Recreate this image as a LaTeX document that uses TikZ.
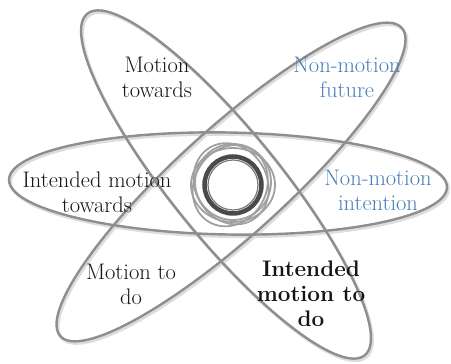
\documentclass[tikz,border=0pt]{standalone}
\usepackage{fontspec}
\usepackage{xcolor}
\definecolor{Orbit}{HTML}{8E8E8E}
\definecolor{Haze}{HTML}{DDDDDD}
\definecolor{Ring}{HTML}{A0A0A0}
\definecolor{Core}{HTML}{4A4A4A}
\definecolor{Ink}{HTML}{151515}
\definecolor{Accent}{HTML}{4A7EBB}

\begin{document}
\begin{tikzpicture}[x=1pt,y=1pt,orbit/.style={draw=Orbit,line width=2.4pt},shade/.style={draw=Haze,line width=3pt},halo/.style={draw=Ring,line width=1.8pt},word/.style={align=center,inner sep=0pt,text=Ink,font=\fontsize{22.5}{25}\selectfont},blueword/.style={word,text=Accent}]
\useasboundingbox (0,0) rectangle (451,364);
\coordinate (nuc) at (233,179);
% soft shadows under the orbits
\draw[shade,rotate around={-1:(229.5,178.5)}] (229.5,178.5) ellipse (219pt and 51pt);
\draw[shade,rotate around={-50.9:(227.5,177.5)}] (227.5,177.5) ellipse (220pt and 54pt);
\draw[shade,rotate around={42.1:(232.5,180)}] (232.5,180) ellipse (230pt and 54pt);
% orbits
\draw[orbit,rotate around={-1:(228,180.5)}] (228,180.5) ellipse (219pt and 51pt);
\draw[orbit,rotate around={-50.9:(226,179.5)}] (226,179.5) ellipse (220pt and 54pt);
\draw[orbit,rotate around={42.1:(231,182)}] (231,182) ellipse (230pt and 54pt);
% nucleus
\draw[halo,rotate around={0:(nuc)}] (nuc) ellipse (42pt and 37pt);
\draw[halo,rotate around={60:(nuc)}] ([shift={(-2,2)}]nuc) ellipse (42pt and 36pt);
\draw[halo,rotate around={120:(nuc)}] ([shift={(2,1)}]nuc) ellipse (42pt and 36pt);
\draw[halo] ([shift={(0,3)}]nuc) circle (38pt);
\draw[draw=Core,line width=4.5pt] (nuc) circle (28.5pt);
\draw[draw=Core!75,line width=1.2pt] (nuc) circle (25pt);
% labels
\node[word] (mtow) at (157,286.5) {Motion\\towards};
\node[blueword] (nmfut) at (347,286.5) {Non-motion\\future};
\node[word] (imtow) at (97,171.5) {Intended motion\\towards};
\node[blueword] (nmint) at (378,174) {Non-motion\\intention};
\node[word] (mdo) at (131,79.5) {Motion to\\do};
\node[word,font=\fontsize{22.5}{25}\selectfont\bfseries] (imdo) at (311,70) {Intended\\motion to\\do};
\end{tikzpicture}
\end{document}
